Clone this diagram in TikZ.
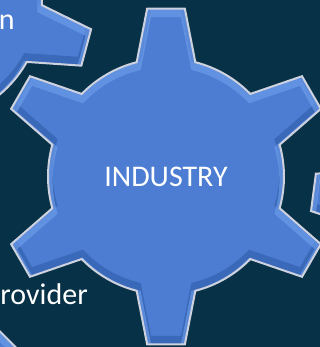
\documentclass[tikz,border=0pt]{standalone}
\usepackage{fontspec}
\setmainfont{Carlito}

\definecolor{navy}{RGB}{7,49,71}
\definecolor{gearblue}{RGB}{76,125,210}
\definecolor{gearhi}{RGB}{112,160,236}
\definecolor{gearlo}{RGB}{48,92,170}
\definecolor{gearedge}{RGB}{205,210,222}

% gear outline, six teeth, first tooth at angle #1
\newcommand{\gear}[1]{(#1-45.6:118) \foreach \k in {0,...,5} {arc[start angle=#1+60*\k-45.6, end angle=#1+60*\k-14.4, radius=118] -- (#1+60*\k-6.4:169) -- (#1+60*\k+6.4:169) -- (#1+60*\k+14.4:118)} -- cycle}

% one whole gear: body, bevel, rim
\newcommand{\drawgear}[3]{%
  \begin{scope}[shift={(#1,#2)}]
    \fill[gearbody] \gear{#3};
    \begin{scope}
      \clip \gear{#3};
      \draw[gearshade, shift={(0,4)}] \gear{#3};
      \draw[gearlight, shift={(0,-4)}] \gear{#3};
    \end{scope}
    \draw[gearrim] \gear{#3};
  \end{scope}}

\tikzset{
  gearbody/.style={fill=gearblue},
  gearlight/.style={draw=gearhi, line width=7pt, opacity=0.6},
  gearshade/.style={draw=gearlo, line width=7pt, opacity=0.6},
  gearrim/.style={draw=gearedge, line width=1.5pt, line join=miter},
  geartext/.style={text=white, inner sep=0pt, font=\fontsize{22.5}{27}\selectfont}
}

\begin{document}
\begin{tikzpicture}[x=0.75pt,y=0.75pt]
  \useasboundingbox (0,0) rectangle (320,347);
  \fill[navy] (0,0) rectangle (320,347);
  \clip (0,0) rectangle (320,347);

  \drawgear{-76}{343}{-15}
  \drawgear{480}{133}{52.6}
  \drawgear{-111}{-111}{45}
  \drawgear{166}{170.5}{30}

  \node[geartext] (industry) at (166,170.5) {INDUSTRY};
  \node[geartext, anchor=base east] (topword) at (15,317) {n};
  \node[geartext, anchor=base east] (provider) at (88,42) {rovider};
\end{tikzpicture}
\end{document}
